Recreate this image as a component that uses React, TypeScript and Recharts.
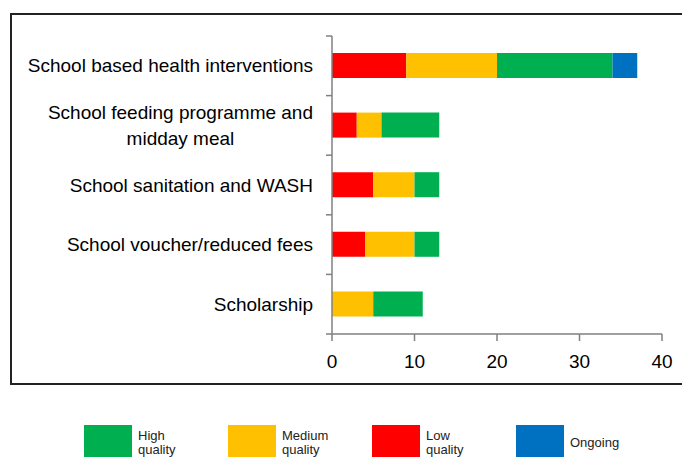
import React from 'react';
import { BarChart, Bar, XAxis, YAxis, Legend } from 'recharts';

const categories = [
  'School based health interventions',
  'School feeding programme and\nmidday meal',
  'School sanitation and WASH',
  'School voucher/reduced fees',
  'Scholarship',
];
const lowQuality = [9, 3, 5, 4, 0];
const mediumQuality = [11, 3, 5, 6, 5];
const highQuality = [14, 7, 3, 3, 6];
const ongoing = [3, 0, 0, 0, 0];
const xTicks = [0, 10, 20, 30, 40];

const legendItems = [
  { key: 'high', label: 'High\nquality', color: '#00B050' },
  { key: 'medium', label: 'Medium\nquality', color: '#FFC000' },
  { key: 'low', label: 'Low\nquality', color: '#FF0000' },
  { key: 'ongoing', label: 'Ongoing', color: '#0070C0' },
];

const data = categories.map((name, i) => ({
  name,
  low: lowQuality[i],
  medium: mediumQuality[i],
  high: highQuality[i],
  ongoing: ongoing[i],
}));

const FONT = '"Liberation Sans", Arial, sans-serif';
const FONT_SIZE = 19;
const AXIS_COLOR = '#808080';
const TICK_MARGIN = 13;
const TICK_LEN = 6;
const X_TICK_LEN = 7;
const X_TICK_MARGIN = 14;
const PLOT_WIDTH = 682 - 20 - 10 - 322;

let canvas: HTMLCanvasElement | null = null;
function textWidth(text: string) {
  if (!canvas) canvas = document.createElement('canvas');
  const ctx = canvas.getContext('2d')!;
  ctx.font = `${FONT_SIZE}px ${FONT}`;
  return ctx.measureText(text).width;
}

// category labels: right aligned, multi-line ones centred on the widest line.
// tick marks sit on the band edges (Excel style), not the band centres
const CategoryTick = ({ x, y, payload, index, visibleTicksCount }: any) => {
  const lines = String(payload.value).split('\n');
  const lineH = 26;
  const half = payload.offset || 30;
  const ax = x + TICK_MARGIN + TICK_LEN;
  const edges = [y - half];
  if (index === visibleTicksCount - 1) edges.push(y + half);
  const marks = edges.map((ey, i) => (
    <line key={`e${i}`} x1={ax - TICK_LEN} x2={ax} y1={ey} y2={ey} stroke={AXIS_COLOR} strokeWidth={1.5} />
  ));
  if (lines.length === 1) {
    return (
      <g>
        {marks}
        <text x={x} y={y} textAnchor="end" dominantBaseline="central" fontSize={FONT_SIZE} fontFamily={FONT} fill="#000">
          {lines[0]}
        </text>
      </g>
    );
  }
  const widest = Math.max(...lines.map(textWidth));
  const cx = x - widest / 2;
  const top = y - ((lines.length - 1) * lineH) / 2;
  return (
    <g>
      {marks}
      <text textAnchor="middle" dominantBaseline="central" fontSize={FONT_SIZE} fontFamily={FONT} fill="#000">
        {lines.map((l, i) => (
          <tspan key={i} x={cx} y={top + i * lineH}>
            {l}
          </tspan>
        ))}
      </text>
    </g>
  );
};

// value axis tick: draws its own tick mark, and the axis line from the first tick
const ValueTick = ({ x, y, payload, index }: any) => {
  const axisY = y - X_TICK_MARGIN - X_TICK_LEN;
  return (
    <g>
      {index === 0 && (
        <line x1={x} x2={x + PLOT_WIDTH} y1={axisY} y2={axisY} stroke={AXIS_COLOR} strokeWidth={1.5} />
      )}
      <line x1={x} x2={x} y1={axisY} y2={axisY + X_TICK_LEN} stroke={AXIS_COLOR} strokeWidth={1.5} />
      <text x={x} y={y} dy="0.71em" textAnchor="middle" fontSize={FONT_SIZE} fontFamily={FONT} fill="#000">
        {payload.value}
      </text>
    </g>
  );
};

const renderLegend = () => (
  <div style={{ display: 'flex', fontFamily: 'Helvetica, Arial, sans-serif', fontSize: 13, color: '#222' }}>
    {legendItems.map((item) => (
      <div key={item.key} style={{ display: 'flex', alignItems: 'center', width: 144 }}>
        <div style={{ width: 48, height: 32, background: item.color, flex: 'none' }} />
        <div style={{ marginLeft: 6, whiteSpace: 'pre-line', lineHeight: '14px', paddingTop: 4 }}>{item.label}</div>
      </div>
    ))}
  </div>
);

export default function App() {
  return (
    <div style={{ position: 'absolute', left: 0, top: 0, width: 682, height: 457, overflow: 'hidden', background: '#fff' }}>
      <div
        style={{
          position: 'absolute',
          left: 10,
          top: 13,
          width: 700,
          height: 372,
          border: '2px solid #222',
          boxSizing: 'border-box',
        }}
      />
      <div style={{ position: 'absolute', left: 0, top: 0 }}>
        <BarChart
          width={682}
          height={457}
          data={data}
          layout="vertical"
          margin={{ top: 36, right: 20, left: 10, bottom: 51 }}
          barSize={25}
        >
          <XAxis
            type="number"
            domain={[0, 40]}
            ticks={xTicks}
            height={40}
            stroke={AXIS_COLOR}
            axisLine={false}
            tickLine={false}
            tickSize={X_TICK_LEN}
            tickMargin={X_TICK_MARGIN}
            tick={<ValueTick />}
            interval={0}
          />
          <YAxis
            type="category"
            dataKey="name"
            width={322}
            stroke={AXIS_COLOR}
            strokeWidth={1.5}
            tickLine={{ stroke: 'none' }}
            tickSize={TICK_LEN}
            tickMargin={TICK_MARGIN}
            tick={<CategoryTick />}
            interval={0}
          />
          <Bar dataKey="low" name="Low quality" stackId="a" fill="#FF0000" isAnimationActive={false} />
          <Bar dataKey="medium" name="Medium quality" stackId="a" fill="#FFC000" isAnimationActive={false} />
          <Bar dataKey="high" name="High quality" stackId="a" fill="#00B050" isAnimationActive={false} />
          <Bar dataKey="ongoing" name="Ongoing" stackId="a" fill="#0070C0" isAnimationActive={false} />
          <Legend content={renderLegend} wrapperStyle={{ top: 425, left: 84, width: 600, height: 32 }} />
        </BarChart>
      </div>
    </div>
  );
}
